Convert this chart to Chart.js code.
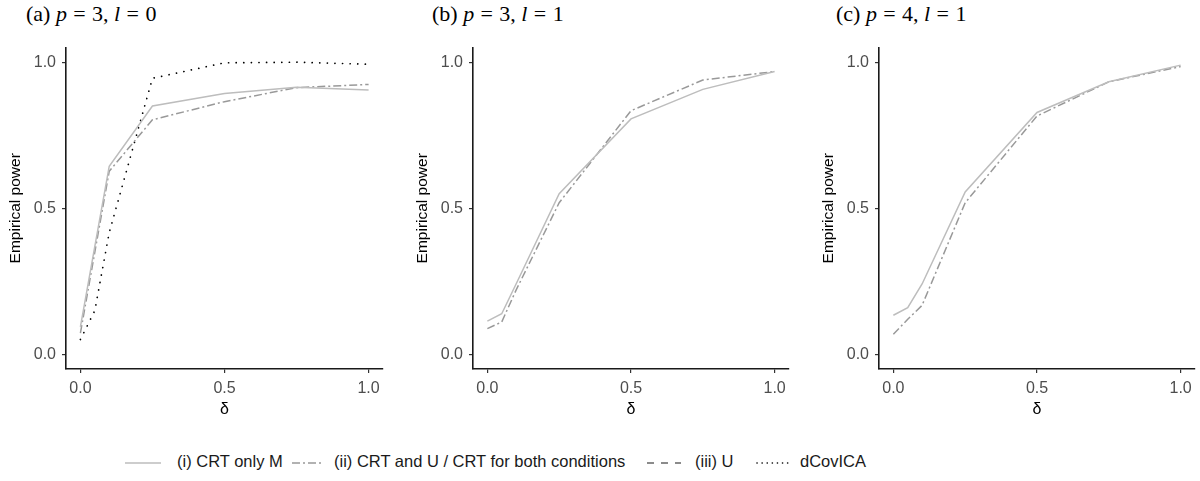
<!DOCTYPE html>
<html lang="en">
  <head>
    <meta charset="UTF-8" />
    <script src="https://cdn.jsdelivr.net/npm/chart.js"></script>
    <title>Empirical power</title>
    <style>
      body { margin: 0; width: 1200px; height: 481px; background: #fff; position: relative; overflow: hidden; font-family: "Liberation Sans", Arial, sans-serif; }
      .panel { position: absolute; top: 32px; height: 393px; }
      .title { position: absolute; top: 1px; font-family: "Liberation Serif", "DejaVu Serif", serif; font-size: 22px; color: #000; white-space: nowrap; }
      .title i { font-style: italic; }
      .title .eq { margin: 0 0.04em; }
      .key { position: absolute; top: 458px; }
      .lab { position: absolute; top: 452px; font-size: 16.5px; color: #1a1a1a; white-space: nowrap; }
    </style>
  </head>
  <body>
    <div class="title" style="left: 26px">(a) <i>p</i> <span class="eq">=</span> 3, <i>l</i> <span class="eq">=</span> 0</div>
    <div class="title" style="left: 432px">(b) <i>p</i> <span class="eq">=</span> 3, <i>l</i> <span class="eq">=</span> 1</div>
    <div class="title" style="left: 836px">(c) <i>p</i> <span class="eq">=</span> 4, <i>l</i> <span class="eq">=</span> 1</div>

    <div class="panel" style="left: 0px; width: 390px"><canvas id="chartA"></canvas></div>
    <div class="panel" style="left: 407px; width: 390px"><canvas id="chartB"></canvas></div>
    <div class="panel" style="left: 813px; width: 387px"><canvas id="chartC"></canvas></div>

    <!-- legend -->
    <svg class="key" style="left: 125px" width="36" height="10"><line x1="0" y1="5" x2="36" y2="5" stroke="#bdbdbd" stroke-width="1.5" /></svg>
    <span class="lab" style="left: 177px">(i) CRT only M</span>
    <svg class="key" style="left: 292px" width="32" height="10"><line x1="0" y1="5" x2="32" y2="5" stroke="#999" stroke-width="1.5" stroke-dasharray="8 3 2 3" /></svg>
    <span class="lab" style="left: 334px">(ii) CRT and U / CRT for both conditions</span>
    <svg class="key" style="left: 645px" width="36" height="10"><line x1="2" y1="5" x2="36" y2="5" stroke="#666" stroke-width="1.5" stroke-dasharray="7 7" /></svg>
    <span class="lab" style="left: 695px">(iii) U</span>
    <svg class="key" style="left: 755px" width="36" height="10"><line x1="2" y1="5" x2="36" y2="5" stroke="#000" stroke-width="1.6" stroke-dasharray="0.1 5" stroke-linecap="round" /></svg>
    <span class="lab" style="left: 800px">dCovICA</span>

    <script>
      // delta values on the x axis
      const delta = [0, 0.05, 0.1, 0.25, 0.5, 0.75, 1];
      const axisTicks = [0, 0.5, 1];

      // (a) p = 3, l = 0
      const crtOnlyA = [0.094, 0.37, 0.644, 0.85, 0.893, 0.914, 0.905];
      const crtBothA = [0.073, 0.35, 0.627, 0.803, 0.865, 0.913, 0.924];
      const dcovA = [0.051, 0.15, 0.417, 0.945, 0.998, 1.0, 0.993];

      // (b) p = 3, l = 1
      const crtOnlyB = [0.114, 0.139, 0.241, 0.55, 0.806, 0.907, 0.968];
      const crtBothB = [0.088, 0.111, 0.22, 0.519, 0.834, 0.939, 0.968];

      // (c) p = 4, l = 1
      const crtOnlyC = [0.134, 0.16, 0.241, 0.556, 0.828, 0.933, 0.99];
      const crtBothC = [0.069, 0.12, 0.168, 0.519, 0.816, 0.933, 0.985];

      Chart.defaults.font.family = "'Liberation Sans', Arial, sans-serif";
      Chart.defaults.animation = false;

      const toPoints = (ys) => ys.map((y, i) => ({ x: delta[i], y: y }));

      const lineStyle = {
        crtOnly: { borderColor: "#bdbdbd", borderWidth: 1.5, borderDash: [] },
        crtBoth: { borderColor: "#999999", borderWidth: 1.5, borderDash: [8, 3, 2, 3] },
        dcov: { borderColor: "#000000", borderWidth: 1.7, borderDash: [0.1, 7.5], borderCapStyle: "round" },
      };

      const makeScale = (isY) => ({
        type: "linear",
        min: -0.05,
        max: 1.05,
        afterBuildTicks: (scale) => {
          scale.ticks = axisTicks.map((v) => ({ value: v }));
        },
        afterFit: (scale) => {
          if (isY) scale.width = 66;
          else scale.height = 56;
        },
        grid: {
          display: true,
          drawOnChartArea: false,
          drawTicks: true,
          tickLength: 4,
          color: "#333",
          lineWidth: 1.2,
        },
        border: { display: true, color: "#1a1a1a", width: 1.6 },
        ticks: {
          color: "#4d4d4d",
          font: { size: 16 },
          padding: 6,
          maxRotation: 0,
          callback: (v) => Number(v).toFixed(1),
        },
        title: {
          display: true,
          text: isY ? "Empirical power" : "δ",
          color: "#000",
          font: { size: isY ? 15.5 : 16 },
          padding: isY ? { top: 6, bottom: 0 } : { top: 4, bottom: 6 },
        },
      });

      const makeChart = (id, series, rightPad) => {
        const datasets = series.map(([data, style]) => ({
          data: toPoints(data),
          ...lineStyle[style],
          fill: false,
          tension: 0,
          pointRadius: 0,
        }));
        return new Chart(document.getElementById(id), {
          type: "line",
          data: { datasets: datasets },
          options: {
            responsive: true,
            maintainAspectRatio: false,
            layout: { padding: { top: 0, right: rightPad, left: 0, bottom: 0 } },
            plugins: { legend: { display: false }, tooltip: { enabled: false } },
            scales: { x: makeScale(false), y: makeScale(true) },
          },
        });
      };

      makeChart("chartA", [[crtOnlyA, "crtOnly"], [crtBothA, "crtBoth"], [dcovA, "dcov"]], 7);
      makeChart("chartB", [[crtOnlyB, "crtOnly"], [crtBothB, "crtBoth"]], 8);
      makeChart("chartC", [[crtOnlyC, "crtOnly"], [crtBothC, "crtBoth"]], 5);
    </script>
  </body>
</html>
